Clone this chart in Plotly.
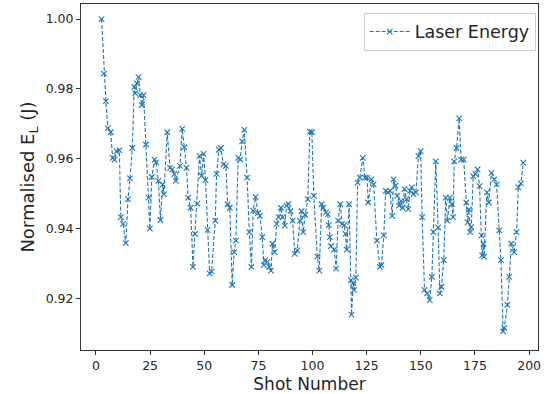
import plotly.graph_objects as go

shot = [2.6, 3.7, 4.6, 5.5, 6.8, 7.7, 8.6, 9.5, 10.8, 11.5, 12.5, 13.8, 14.8, 15.7, 16.8,
        17.7, 18.2, 18.9, 19.7, 20.5, 21.2, 22.0, 23.1, 24.3, 24.9, 25.8, 27.1, 27.8, 28.8,
        29.8, 30.8, 31.4, 32.9, 34.2, 35.2, 36.2, 36.9, 38.8, 39.8, 40.8, 41.8, 42.6, 43.7,
        44.8, 45.7, 46.8, 47.8, 48.8, 49.7, 50.6, 51.5, 52.5, 53.4, 55.1, 55.7, 56.8, 57.7,
        58.9, 60.0, 60.8, 61.8, 62.9, 63.8, 64.6, 65.7, 66.6, 67.5, 68.5, 69.8, 70.8, 71.8,
        72.6, 73.7, 74.8, 75.7, 76.8, 77.5, 78.2, 79.1, 80.0, 80.8, 81.5, 82.5, 83.4, 84.3,
        85.4, 86.2, 87.2, 88.0, 88.9, 89.8, 90.8, 91.8, 92.9, 94.2, 94.9, 95.7, 96.6, 97.8,
        98.8, 99.7, 100.6, 102.2, 103.1, 104.2, 105.0, 106.2, 107.0, 107.5, 108.0, 108.5,
        110.0, 110.9, 111.8, 112.8, 113.7, 114.6, 115.2, 115.8, 116.9, 117.7, 118.0, 118.8,
        119.2, 120.0, 120.8, 121.8, 123.2, 124.2, 125.2, 125.7, 127.2, 128.2, 129.7, 131.1,
        131.8, 132.9, 133.8, 134.9, 135.8, 136.8, 137.4, 138.3, 139.1, 139.9, 140.8, 141.6,
        142.5, 143.4, 144.2, 145.0, 145.8, 146.6, 147.7, 148.9, 149.9, 150.6, 151.7, 152.9,
        154.1, 155.1, 155.8, 156.9, 158.0, 158.8, 159.5, 160.6, 161.5, 162.3, 163.4, 164.3,
        164.9, 165.4, 166.5, 167.7, 168.6, 169.8, 171.0, 171.6, 172.2, 172.8, 173.3, 174.2,
        175.2, 176.2, 177.1, 178.0, 178.3, 178.9, 179.2, 180.5, 181.4, 182.6, 183.9, 185.0,
        186.2, 187.0, 188.0, 188.5, 190.0, 190.8, 191.8, 193.1, 194.2, 195.0, 196.2, 197.3]

energy = [1.0000, 0.9844, 0.9765, 0.9688, 0.9676, 0.9603, 0.9598, 0.9622, 0.9624, 0.9433,
          0.9414, 0.9359, 0.9485, 0.9544, 0.9631, 0.9806, 0.9787, 0.9816, 0.9834, 0.9782,
          0.9754, 0.9782, 0.9641, 0.9489, 0.9400, 0.9548, 0.9598, 0.9590, 0.9537, 0.9425,
          0.9527, 0.9499, 0.9676, 0.9574, 0.9570, 0.9556, 0.9537, 0.9580, 0.9686, 0.9633,
          0.9574, 0.9489, 0.9460, 0.9291, 0.9385, 0.9472, 0.9608, 0.9551, 0.9614, 0.9539,
          0.9397, 0.9272, 0.9277, 0.9423, 0.9557, 0.9626, 0.9631, 0.9584, 0.9580, 0.9470,
          0.9460, 0.9239, 0.9333, 0.9366, 0.9603, 0.9598, 0.9650, 0.9683, 0.9546, 0.9390,
          0.9291, 0.9452, 0.9491, 0.9445, 0.9437, 0.9376, 0.9296, 0.9310, 0.9305, 0.9291,
          0.9280, 0.9357, 0.9333, 0.9414, 0.9433, 0.9460, 0.9433, 0.9409, 0.9466, 0.9470,
          0.9450, 0.9423, 0.9328, 0.9338, 0.9423, 0.9450, 0.9390, 0.9440, 0.9485, 0.9678,
          0.9676, 0.9494, 0.9320, 0.9280, 0.9470, 0.9460, 0.9447, 0.9442, 0.9410, 0.9376,
          0.9350, 0.9340, 0.9286, 0.9423, 0.9470, 0.9414, 0.9410, 0.9385, 0.9340, 0.9470,
          0.9253, 0.9154, 0.9244, 0.9225, 0.9260, 0.9532, 0.9546, 0.9603, 0.9546, 0.9546,
          0.9475, 0.9541, 0.9527, 0.9366, 0.9291, 0.9296, 0.9381, 0.9508, 0.9504, 0.9508,
          0.9437, 0.9541, 0.9523, 0.9494, 0.9466, 0.9480, 0.9460, 0.9513, 0.9485, 0.9456,
          0.9508, 0.9518, 0.9499, 0.9504, 0.9608, 0.9622, 0.9433, 0.9225, 0.9215, 0.9196,
          0.9262, 0.9390, 0.9593, 0.9404, 0.9215, 0.9234, 0.9310, 0.9489, 0.9423, 0.9489,
          0.9470, 0.9433, 0.9593, 0.9631, 0.9716, 0.9598, 0.9598, 0.9475, 0.9418, 0.9455,
          0.9390, 0.9405, 0.9550, 0.9557, 0.9570, 0.9522, 0.9381, 0.9324, 0.9357, 0.9320,
          0.9504, 0.9475, 0.9560, 0.9541, 0.9527, 0.9395, 0.9310, 0.9106, 0.9116, 0.9182,
          0.9262, 0.9357, 0.9333, 0.9390, 0.9518, 0.9530, 0.9589]

x_ticks = [0, 25, 50, 75, 100, 125, 150, 175, 200]
y_ticks = [0.92, 0.94, 0.96, 0.98, 1.00]

blue = "#1f77b4"
font = "DejaVu Sans"

fig = go.Figure()
fig.add_trace(go.Scatter(
    x=shot, y=energy, mode="lines+markers", name="Laser Energy",
    line=dict(color=blue, width=1.1, dash="4px,2px"),
    marker=dict(symbol="x-thin", size=5.5, color=blue, line=dict(color=blue, width=1.1)),
))

axis_common = dict(showline=True, mirror=True, linecolor="#333333", linewidth=1,
                   ticks="outside", ticklen=4, tickcolor="#333333", showgrid=False,
                   zeroline=False, tickfont=dict(family=font, size=12.5, color="#262626"))

fig.update_layout(
    width=546, height=394,
    margin=dict(l=81, r=8, t=3, b=42),
    paper_bgcolor="white", plot_bgcolor="white",
    font=dict(family=font, color="#262626"),
    xaxis=dict(range=[-6.9, 204.1], tickvals=x_ticks,
               title=dict(text="Shot Number", font=dict(family=font, size=17), standoff=6),
               **axis_common),
    yaxis=dict(range=[0.9053, 1.0043], tickvals=y_ticks, tickformat=".2f",
               title=dict(text="Normalised E<sub>L</sub> (J)", font=dict(family=font, size=18), standoff=6),
               **axis_common),
    legend=dict(x=0.995, y=0.975, xanchor="right", yanchor="top",
                bgcolor="white", bordercolor="#cccccc", borderwidth=1,
                font=dict(family=font, size=17.5, color="#262626"),
                itemwidth=40),
    showlegend=True,
)

fig.write_html("out.html")
